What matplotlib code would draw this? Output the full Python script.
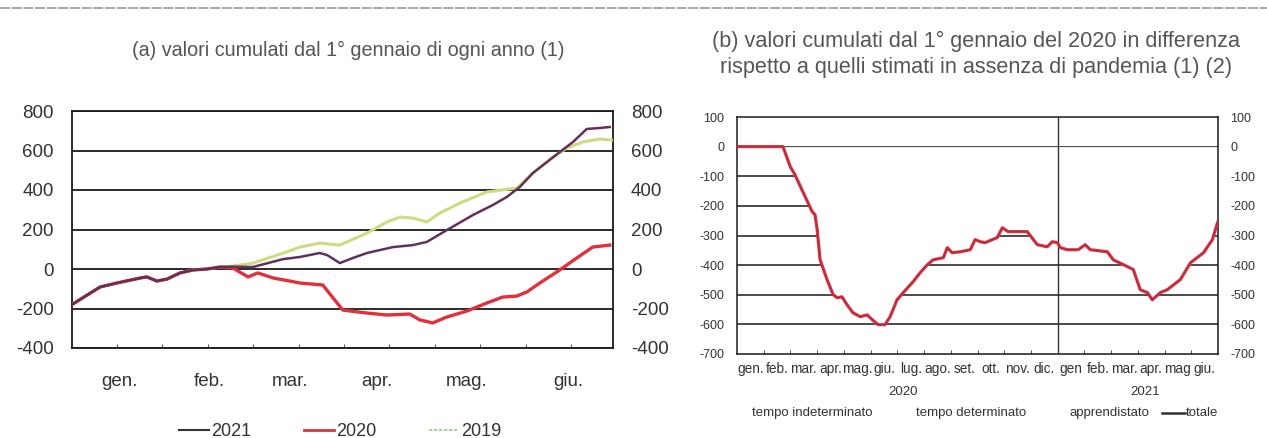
import matplotlib
matplotlib.use("Agg")
import matplotlib.pyplot as plt
from matplotlib.lines import Line2D
import numpy as np

# ---------------- data: panel (a) ----------------
# days since 1 January (shared start, all years overlap)
start_days = [0, 9.4, 15, 22.7, 25, 28.4, 31.8, 36.1, 40.5, 45.2, 49.5]
start_vals = [-180, -91, -71, -46, -40, -61, -51, -20, -5, 0, 10]

days_2021 = [53.8, 60.5, 70.6, 76.3, 82.9, 85.3, 89.6, 94, 98.7, 107.4, 114, 118.7,
             125.4, 134.1, 140.8, 145.5, 149.8, 154.2, 163.2, 167.6, 172.2, 176.6, 179.9]
vals_2021 = [12, 10, 50, 61, 81, 71, 30, 56, 81, 111, 121, 137,
             197, 273, 324, 365, 415, 486, 592, 643, 709, 714, 719]

days_2020 = [53.8, 58.9, 62.2, 67.2, 76.3, 83.9, 90.6, 98.7, 105.4, 113, 116.4, 120.7,
             125.4, 132.1, 138.8, 144.1, 148.8, 152.2, 156.5, 163.2, 168.9, 174.2, 179.9]
vals_2020 = [5, -40, -20, -45, -71, -81, -208, -223, -233, -228, -258, -273,
             -243, -213, -172, -142, -137, -116, -71, -5, 56, 111, 121]

days_2019 = [53.8, 60.5, 70.6, 76.3, 82.9, 89.6, 98.7, 105.4, 109.7, 114, 118.7, 123,
             129.8, 138.8, 148.8, 154.2, 160.9, 165.6, 170.9, 176.6, 180.6]
vals_2019 = [15, 30, 80, 111, 131, 121, 182, 238, 263, 258, 238, 283,
             334, 390, 410, 486, 567, 613, 643, 658, 653]

months_a = ["gen.", "feb.", "mar.", "apr.", "mag.", "giu."]
month_pos_a = [16, 46, 73, 102, 132, 166]
yticks_a = [-400, -200, 0, 200, 400, 600, 800]
series_a = ["2021", "2020", "2019"]

# ---------------- data: panel (b) ----------------
# months since 1 January 2020
m_b = [0, 1.72, 1.99, 2.17, 2.55, 2.81, 2.92, 3.0, 3.11, 3.37, 3.6, 3.75, 3.93, 4.12,
       4.34, 4.61, 4.87, 5.06, 5.28, 5.54, 5.73, 5.99, 6.22, 6.59, 6.85, 7.12, 7.34,
       7.72, 7.87, 8.05, 8.35, 8.73, 8.91, 9.1, 9.29, 9.74, 9.93, 10.15, 10.86, 11.24,
       11.61, 11.8, 11.99, 12.1, 12.36, 12.77, 13.03, 13.22, 13.86, 14.08, 14.61,
       14.83, 15.09, 15.36, 15.54, 15.84, 16.1, 16.59, 16.97, 17.46, 17.79, 17.98]
totale = [0, 0, -67, -95, -169, -219, -230, -280, -382, -449, -500, -510, -507, -534,
          -561, -574, -568, -584, -601, -601, -574, -517, -493, -456, -426, -399, -382,
          -375, -341, -358, -355, -348, -314, -321, -324, -307, -274, -287, -287, -331,
          -338, -321, -324, -341, -348, -348, -331, -348, -355, -382, -405,
          -415, -483, -493, -517, -493, -483, -449, -392, -358, -314, -257]

months_b = ["gen.", "feb.", "mar.", "apr.", "mag.", "giu.", "lug.", "ago.", "set.",
            "ott.", "nov.", "dic.", "gen", "feb.", "mar.", "apr.", "mag", "giu."]
years_b = ["2020", "2021"]
yticks_b = [-700, -600, -500, -400, -300, -200, -100, 0, 100]
legend_b = ["tempo indeterminato", "tempo determinato", "apprendistato", "totale"]

# ---------------- figure ----------------
W, H = 1267, 438
fig = plt.figure(figsize=(W / 100, H / 100), dpi=100)
plt.rcParams['font.family'] = ['Liberation Sans', 'DejaVu Sans']
txt = '#333333'
ttl = '#555555'

def fx(px):
    return px / W

def fy(py):
    return 1 - py / H

# top separator line (scan border)
fig.add_artist(Line2D([0, 1], [fy(8), fy(8)], color='#9a9a9a', lw=1.2,
                      linestyle=(0, (6, 1)), transform=fig.transFigure))

# ---------- panel (a) ----------
axa = fig.add_axes([fx(72), fy(348), fx(613 - 72), fy(111) - fy(348)])
axa.set_xlim(0, 181)
axa.set_ylim(-400, 800)
for v in yticks_a:
    axa.axhline(v, color='#1a1a1a', lw=1.3, zorder=1)

col21, col20, col19 = '#62305c', '#e0303c', '#cfdb80'
axa.plot(start_days + days_2019, start_vals + vals_2019, color=col19, lw=2.2, zorder=3)
axa.plot(start_days + days_2020, start_vals + vals_2020, color=col20, lw=2.4, zorder=4)
axa.plot(start_days + days_2021, start_vals + vals_2021, color=col21, lw=1.8, zorder=5)

axa.set_yticks(yticks_a)
axa.set_yticklabels([str(v) for v in yticks_a])
axa.tick_params(axis='y', length=0, labelsize=13.5, colors=txt, pad=13,
                labelleft=True, labelright=True)
axa.set_xticks(month_pos_a)
axa.set_xticklabels(months_a)
axa.tick_params(axis='x', which='major', length=0, labelsize=13.5, colors=txt, pad=18)
axa.set_xticks(np.arange(15, 181, 15.2), minor=True)
axa.tick_params(axis='x', which='minor', direction='in', length=3, color='#333')
for s in axa.spines.values():
    s.set_color('#1a1a1a')
    s.set_linewidth(1.3)

fig.text(fx(348), fy(50), "(a) valori cumulati dal 1° gennaio di ogni anno (1)",
         ha='center', va='center', fontsize=14.2, color=ttl)

handles_a = [Line2D([], [], color='#333333', lw=1.5),
             Line2D([], [], color=col20, lw=2),
             Line2D([], [], color='#8fcf8a', lw=1.2, linestyle=(0, (2, 1)))]
fig.legend(handles_a, series_a, loc='center',
           bbox_to_anchor=(fx(340), fy(432)), ncol=3, frameon=False,
           fontsize=13, handlelength=1.7, handletextpad=0.1, columnspacing=2.9,
           labelcolor=txt)

# ---------- panel (b) ----------
axb = fig.add_axes([fx(737), fy(354), fx(1218 - 737), fy(117) - fy(354)])
axb.set_xlim(0, 18)
axb.set_ylim(-700, 100)
for v in yticks_b[1:-1]:
    axb.axhline(v, color='#1a1a1a', lw=1.1, zorder=1)
axb.fill_between(m_b, 0, totale, color='white', zorder=2, lw=0)
axb.axvline(12, color='#333', lw=1.0, zorder=3)
axb.plot(m_b, totale, color='#d83444', lw=2.3, zorder=4)
axb.plot(m_b, totale, color='#6a2832', lw=0.6, alpha=0.5, zorder=5)

axb.set_yticks(yticks_b)
axb.set_yticklabels([str(v) for v in yticks_b])
axb.tick_params(axis='y', length=0, labelsize=9, colors=txt, pad=9,
                labelleft=True, labelright=True)
axb.set_xticks(np.arange(18) + 0.5)
axb.set_xticklabels(months_b)
axb.tick_params(axis='x', which='major', length=0, labelsize=9.8, colors=txt, pad=6)
axb.set_xticks(np.arange(1, 18), minor=True)
axb.tick_params(axis='x', which='minor', direction='in', length=3, color='#333')
for s in axb.spines.values():
    s.set_color('#1a1a1a')
    s.set_linewidth(1.1)

fig.text(fx(903), fy(392), years_b[0], ha='center', va='center', fontsize=9.5, color=txt)
fig.text(fx(1145), fy(392), years_b[1], ha='center', va='center', fontsize=9.5, color=txt)

fig.text(fx(976), fy(41), "(b) valori cumulati dal 1° gennaio del 2020 in differenza",
         ha='center', va='center', fontsize=15.6, color=ttl)
fig.text(fx(976), fy(67), "rispetto a quelli stimati in assenza di pandemia (1) (2)",
         ha='center', va='center', fontsize=15.6, color=ttl)

# legend of panel (b): the three components have no visible key, totale has a line
leg_x = [752, 916, 1070, 1186]
for lab, x0 in zip(legend_b, leg_x):
    fig.text(fx(x0), fy(413), lab, ha='left', va='center', fontsize=9.5, color=txt)
fig.add_artist(Line2D([fx(1162), fx(1185)], [fy(413), fy(413)], color='#333333',
                      lw=1.8, transform=fig.transFigure))

fig.savefig("out.png", dpi=100, facecolor='white')
